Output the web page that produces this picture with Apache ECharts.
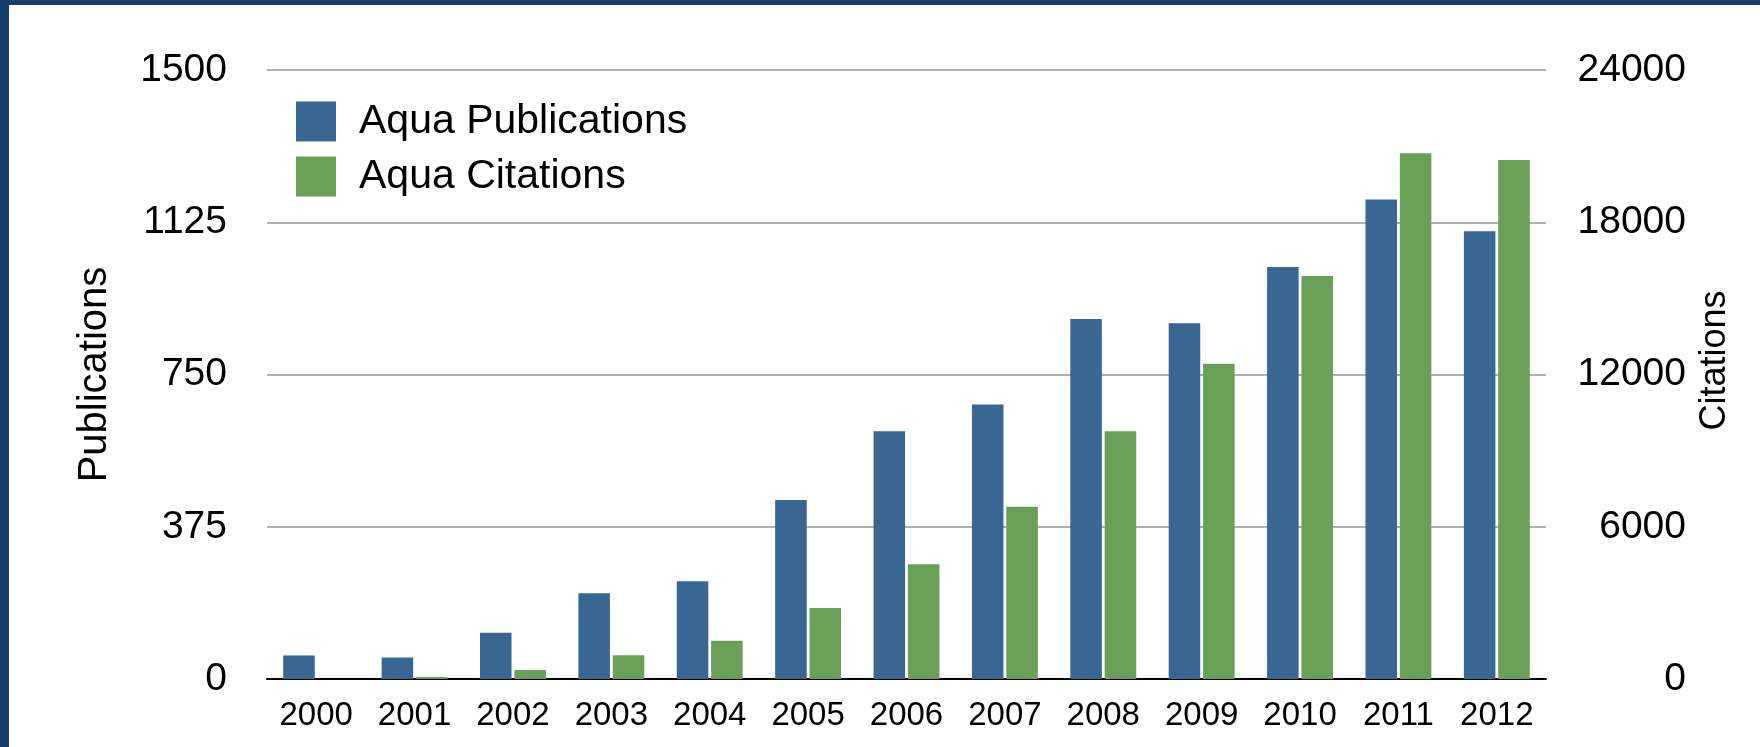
<!DOCTYPE html>
<html>
<head>
<meta charset="utf-8">
<script src="https://cdn.jsdelivr.net/npm/echarts@6/dist/echarts.min.js"></script>
<style>
html,body{margin:0;padding:0;background:#ffffff;}
#chart{width:1760px;height:747px;}
</style>
</head>
<body>
<div id="chart"></div>
<script>
var years = ['2000','2001','2002','2003','2004','2005','2006','2007','2008','2009','2010','2011','2012'];
var publications = [58, 53, 114, 211, 241, 441, 610, 676, 887, 876, 1015, 1181, 1103];
var citations = [0, 80, 355, 932, 1508, 2795, 4525, 6788, 9760, 12422, 15883, 20719, 20452];
var pubTicks = [0, 375, 750, 1125, 1500];
var citTicks = [0, 6000, 12000, 18000, 24000];

var FONT = '"Liberation Sans", Helvetica, Arial, sans-serif';
var NARROW = '"Liberation Sans Narrow", "Liberation Sans", Helvetica, Arial, sans-serif';
var chart = echarts.init(document.getElementById('chart'), null, {renderer: 'canvas'});
chart.setOption({
  backgroundColor: '#ffffff',
  animation: false,
  textStyle: {fontFamily: FONT},
  graphic: [
    {type: 'rect', left: 0, top: 0, shape: {width: 1760, height: 5}, style: {fill: '#153f67'}, z: 100},
    {type: 'rect', left: 0, top: 0, shape: {width: 9, height: 747}, style: {fill: '#153f67'}, z: 100}
  ],
  grid: {left: 267, right: 214, top: 70, bottom: 68, containLabel: false},
  legend: {
    left: 291, top: 96, orient: 'vertical',
    itemWidth: 40, itemHeight: 40, itemGap: 14,
    icon: 'rect',
    textStyle: {fontSize: 41, color: '#000', fontFamily: FONT, padding: [0, 0, 0, 18]},
    data: ['Aqua Publications', 'Aqua Citations']
  },
  xAxis: {
    type: 'category', data: years,
    axisLine: {lineStyle: {color: '#000', width: 2}},
    axisTick: {show: false},
    axisLabel: {fontSize: 33, color: '#000', margin: 20, fontFamily: NARROW},
    splitLine: {show: false}
  },
  yAxis: [
    {
      type: 'value', min: 0, max: 1500, interval: 375,
      name: 'Publications', nameLocation: 'middle', nameGap: 152, nameRotate: 90,
      nameTextStyle: {fontSize: 40, color: '#000', fontFamily: FONT},
      axisLine: {show: false}, axisTick: {show: false},
      axisLabel: {fontSize: 39, color: '#000', margin: 40, fontFamily: NARROW,
        formatter: function (v) { return String(v); }},
      splitLine: {lineStyle: {color: '#b0b0b0', width: 2}}
    },
    {
      type: 'value', min: 0, max: 24000, interval: 6000,
      name: 'Citations', nameLocation: 'middle', nameGap: 116, nameRotate: 90,
      nameTextStyle: {fontSize: 36, color: '#000', fontFamily: FONT, padding: [0, 0, 0, 28]},
      axisLine: {show: false}, axisTick: {show: false},
      axisLabel: {fontSize: 39, color: '#000', margin: 140, align: 'right', fontFamily: NARROW,
        formatter: function (v) { return String(v); }},
      splitLine: {show: false}
    }
  ],
  series: [
    {
      name: 'Aqua Publications', type: 'bar', yAxisIndex: 0, data: publications,
      barGap: '9%', barCategoryGap: '33%',
      itemStyle: {color: '#396692'}
    },
    {
      name: 'Aqua Citations', type: 'bar', yAxisIndex: 1, data: citations,
      itemStyle: {color: '#699f56'}
    }
  ]
});
</script>
</body>
</html>
